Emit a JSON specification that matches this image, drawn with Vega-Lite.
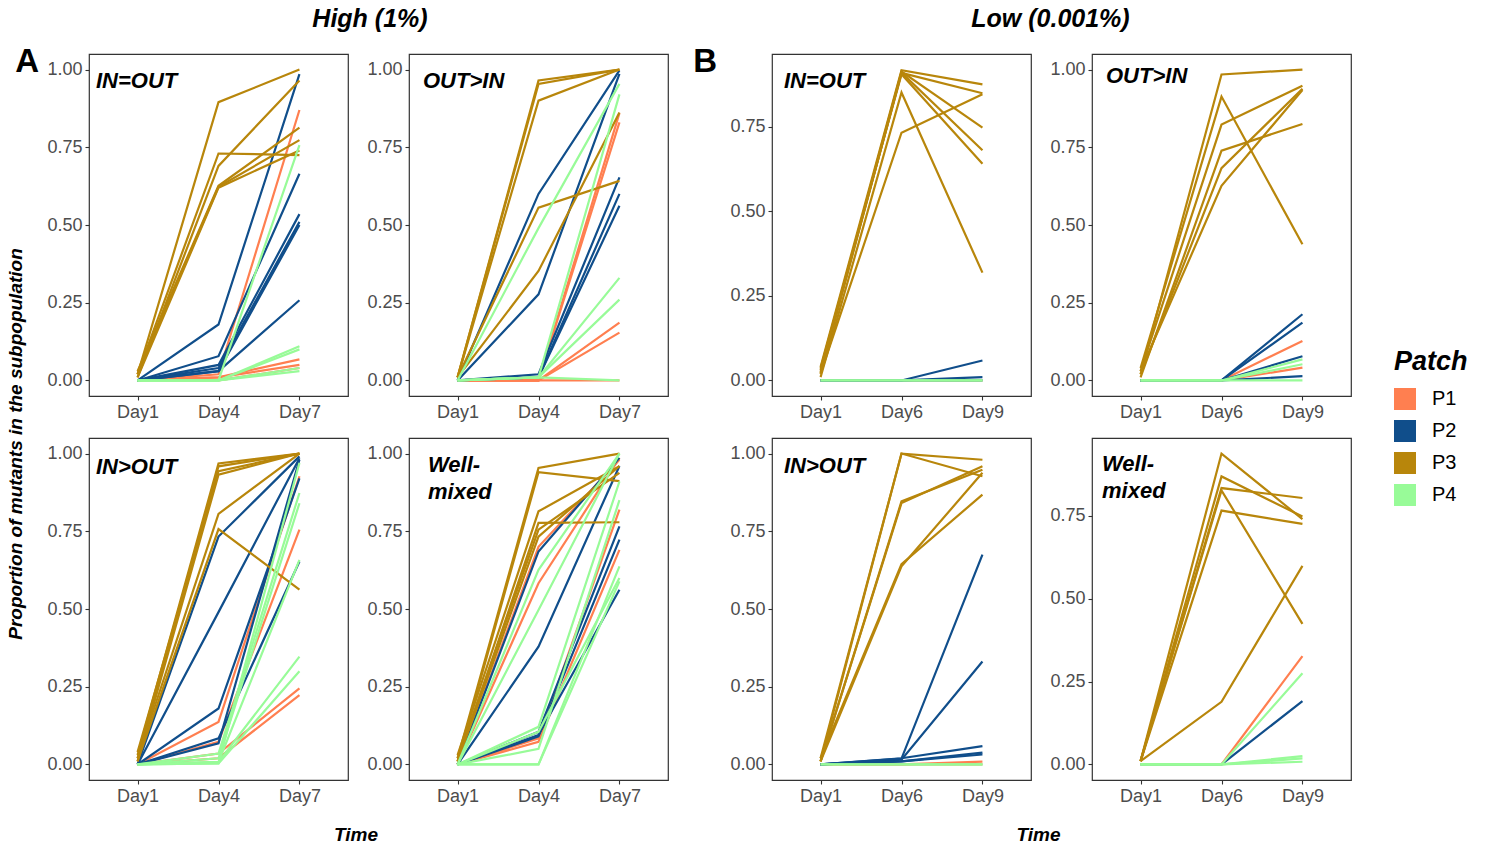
{
"$schema": "https://vega.github.io/schema/vega-lite/v6.json",
"background": "white",
"padding": {"left": 7, "top": 7, "right": 0, "bottom": 0},
"data": {"values": [
{"panel":"A1","patch":"P1","rep":1,"day":"Day1","value":0},{"panel":"A1","patch":"P1","rep":1,"day":"Day4","value":0.02},{"panel":"A1","patch":"P1","rep":1,"day":"Day7","value":0.87},
{"panel":"A1","patch":"P1","rep":2,"day":"Day1","value":0},{"panel":"A1","patch":"P1","rep":2,"day":"Day4","value":0.01},{"panel":"A1","patch":"P1","rep":2,"day":"Day7","value":0.068},
{"panel":"A1","patch":"P1","rep":3,"day":"Day1","value":0},{"panel":"A1","patch":"P1","rep":3,"day":"Day4","value":0.01},{"panel":"A1","patch":"P1","rep":3,"day":"Day7","value":0.05},
{"panel":"A1","patch":"P1","rep":4,"day":"Day1","value":0},{"panel":"A1","patch":"P1","rep":4,"day":"Day4","value":0},{"panel":"A1","patch":"P1","rep":4,"day":"Day7","value":0.04},
{"panel":"A1","patch":"P2","rep":1,"day":"Day1","value":0},{"panel":"A1","patch":"P2","rep":1,"day":"Day4","value":0.18},{"panel":"A1","patch":"P2","rep":1,"day":"Day7","value":0.985},
{"panel":"A1","patch":"P2","rep":2,"day":"Day1","value":0},{"panel":"A1","patch":"P2","rep":2,"day":"Day4","value":0.078},{"panel":"A1","patch":"P2","rep":2,"day":"Day7","value":0.665},
{"panel":"A1","patch":"P2","rep":3,"day":"Day1","value":0},{"panel":"A1","patch":"P2","rep":3,"day":"Day4","value":0.05},{"panel":"A1","patch":"P2","rep":3,"day":"Day7","value":0.535},
{"panel":"A1","patch":"P2","rep":4,"day":"Day1","value":0},{"panel":"A1","patch":"P2","rep":4,"day":"Day4","value":0.04},{"panel":"A1","patch":"P2","rep":4,"day":"Day7","value":0.51},
{"panel":"A1","patch":"P2","rep":5,"day":"Day1","value":0},{"panel":"A1","patch":"P2","rep":5,"day":"Day4","value":0.03},{"panel":"A1","patch":"P2","rep":5,"day":"Day7","value":0.5},
{"panel":"A1","patch":"P2","rep":6,"day":"Day1","value":0},{"panel":"A1","patch":"P2","rep":6,"day":"Day4","value":0.03},{"panel":"A1","patch":"P2","rep":6,"day":"Day7","value":0.258},
{"panel":"A1","patch":"P3","rep":1,"day":"Day1","value":0.02},{"panel":"A1","patch":"P3","rep":1,"day":"Day4","value":0.895},{"panel":"A1","patch":"P3","rep":1,"day":"Day7","value":1},
{"panel":"A1","patch":"P3","rep":2,"day":"Day1","value":0.02},{"panel":"A1","patch":"P3","rep":2,"day":"Day4","value":0.73},{"panel":"A1","patch":"P3","rep":2,"day":"Day7","value":0.725},
{"panel":"A1","patch":"P3","rep":3,"day":"Day1","value":0.01},{"panel":"A1","patch":"P3","rep":3,"day":"Day4","value":0.69},{"panel":"A1","patch":"P3","rep":3,"day":"Day7","value":0.965},
{"panel":"A1","patch":"P3","rep":4,"day":"Day1","value":0.03},{"panel":"A1","patch":"P3","rep":4,"day":"Day4","value":0.626},{"panel":"A1","patch":"P3","rep":4,"day":"Day7","value":0.813},
{"panel":"A1","patch":"P3","rep":5,"day":"Day1","value":0.02},{"panel":"A1","patch":"P3","rep":5,"day":"Day4","value":0.623},{"panel":"A1","patch":"P3","rep":5,"day":"Day7","value":0.773},
{"panel":"A1","patch":"P3","rep":6,"day":"Day1","value":0.01},{"panel":"A1","patch":"P3","rep":6,"day":"Day4","value":0.62},{"panel":"A1","patch":"P3","rep":6,"day":"Day7","value":0.74},
{"panel":"A1","patch":"P4","rep":1,"day":"Day1","value":0},{"panel":"A1","patch":"P4","rep":1,"day":"Day4","value":0},{"panel":"A1","patch":"P4","rep":1,"day":"Day7","value":0.757},
{"panel":"A1","patch":"P4","rep":2,"day":"Day1","value":0},{"panel":"A1","patch":"P4","rep":2,"day":"Day4","value":0},{"panel":"A1","patch":"P4","rep":2,"day":"Day7","value":0.11},
{"panel":"A1","patch":"P4","rep":3,"day":"Day1","value":0},{"panel":"A1","patch":"P4","rep":3,"day":"Day4","value":0},{"panel":"A1","patch":"P4","rep":3,"day":"Day7","value":0.1},
{"panel":"A1","patch":"P4","rep":4,"day":"Day1","value":0},{"panel":"A1","patch":"P4","rep":4,"day":"Day4","value":0},{"panel":"A1","patch":"P4","rep":4,"day":"Day7","value":0.04},
{"panel":"A1","patch":"P4","rep":5,"day":"Day1","value":0},{"panel":"A1","patch":"P4","rep":5,"day":"Day4","value":0},{"panel":"A1","patch":"P4","rep":5,"day":"Day7","value":0.03},

{"panel":"A2","patch":"P1","rep":1,"day":"Day1","value":0},{"panel":"A2","patch":"P1","rep":1,"day":"Day4","value":0},{"panel":"A2","patch":"P1","rep":1,"day":"Day7","value":0.86},
{"panel":"A2","patch":"P1","rep":2,"day":"Day1","value":0},{"panel":"A2","patch":"P1","rep":2,"day":"Day4","value":0},{"panel":"A2","patch":"P1","rep":2,"day":"Day7","value":0.83},
{"panel":"A2","patch":"P1","rep":3,"day":"Day1","value":0},{"panel":"A2","patch":"P1","rep":3,"day":"Day4","value":0},{"panel":"A2","patch":"P1","rep":3,"day":"Day7","value":0.186},
{"panel":"A2","patch":"P1","rep":4,"day":"Day1","value":0},{"panel":"A2","patch":"P1","rep":4,"day":"Day4","value":0},{"panel":"A2","patch":"P1","rep":4,"day":"Day7","value":0.154},
{"panel":"A2","patch":"P1","rep":5,"day":"Day1","value":0},{"panel":"A2","patch":"P1","rep":5,"day":"Day4","value":0},{"panel":"A2","patch":"P1","rep":5,"day":"Day7","value":0},
{"panel":"A2","patch":"P2","rep":1,"day":"Day1","value":0},{"panel":"A2","patch":"P2","rep":1,"day":"Day4","value":0.6},{"panel":"A2","patch":"P2","rep":1,"day":"Day7","value":0.997},
{"panel":"A2","patch":"P2","rep":2,"day":"Day1","value":0},{"panel":"A2","patch":"P2","rep":2,"day":"Day4","value":0.277},{"panel":"A2","patch":"P2","rep":2,"day":"Day7","value":0.986},
{"panel":"A2","patch":"P2","rep":3,"day":"Day1","value":0},{"panel":"A2","patch":"P2","rep":3,"day":"Day4","value":0.02},{"panel":"A2","patch":"P2","rep":3,"day":"Day7","value":0.653},
{"panel":"A2","patch":"P2","rep":4,"day":"Day1","value":0},{"panel":"A2","patch":"P2","rep":4,"day":"Day4","value":0.01},{"panel":"A2","patch":"P2","rep":4,"day":"Day7","value":0.6},
{"panel":"A2","patch":"P2","rep":5,"day":"Day1","value":0},{"panel":"A2","patch":"P2","rep":5,"day":"Day4","value":0.01},{"panel":"A2","patch":"P2","rep":5,"day":"Day7","value":0.562},
{"panel":"A2","patch":"P3","rep":1,"day":"Day1","value":0.01},{"panel":"A2","patch":"P3","rep":1,"day":"Day4","value":0.965},{"panel":"A2","patch":"P3","rep":1,"day":"Day7","value":1},
{"panel":"A2","patch":"P3","rep":2,"day":"Day1","value":0.01},{"panel":"A2","patch":"P3","rep":2,"day":"Day4","value":0.954},{"panel":"A2","patch":"P3","rep":2,"day":"Day7","value":1},
{"panel":"A2","patch":"P3","rep":3,"day":"Day1","value":0.01},{"panel":"A2","patch":"P3","rep":3,"day":"Day4","value":0.9},{"panel":"A2","patch":"P3","rep":3,"day":"Day7","value":1},
{"panel":"A2","patch":"P3","rep":4,"day":"Day1","value":0.01},{"panel":"A2","patch":"P3","rep":4,"day":"Day4","value":0.556},{"panel":"A2","patch":"P3","rep":4,"day":"Day7","value":0.642},
{"panel":"A2","patch":"P3","rep":5,"day":"Day1","value":0.01},{"panel":"A2","patch":"P3","rep":5,"day":"Day4","value":0.352},{"panel":"A2","patch":"P3","rep":5,"day":"Day7","value":0.862},
{"panel":"A2","patch":"P4","rep":1,"day":"Day1","value":0},{"panel":"A2","patch":"P4","rep":1,"day":"Day4","value":0.49},{"panel":"A2","patch":"P4","rep":1,"day":"Day7","value":0.954},
{"panel":"A2","patch":"P4","rep":2,"day":"Day1","value":0},{"panel":"A2","patch":"P4","rep":2,"day":"Day4","value":0.01},{"panel":"A2","patch":"P4","rep":2,"day":"Day7","value":0.92},
{"panel":"A2","patch":"P4","rep":3,"day":"Day1","value":0},{"panel":"A2","patch":"P4","rep":3,"day":"Day4","value":0.01},{"panel":"A2","patch":"P4","rep":3,"day":"Day7","value":0.33},
{"panel":"A2","patch":"P4","rep":4,"day":"Day1","value":0},{"panel":"A2","patch":"P4","rep":4,"day":"Day4","value":0.01},{"panel":"A2","patch":"P4","rep":4,"day":"Day7","value":0.26},
{"panel":"A2","patch":"P4","rep":5,"day":"Day1","value":0},{"panel":"A2","patch":"P4","rep":5,"day":"Day4","value":0.01},{"panel":"A2","patch":"P4","rep":5,"day":"Day7","value":0},

{"panel":"A3","patch":"P1","rep":1,"day":"Day1","value":0},{"panel":"A3","patch":"P1","rep":1,"day":"Day4","value":0.137},{"panel":"A3","patch":"P1","rep":1,"day":"Day7","value":0.927},
{"panel":"A3","patch":"P1","rep":2,"day":"Day1","value":0},{"panel":"A3","patch":"P1","rep":2,"day":"Day4","value":0.073},{"panel":"A3","patch":"P1","rep":2,"day":"Day7","value":0.755},
{"panel":"A3","patch":"P1","rep":3,"day":"Day1","value":0},{"panel":"A3","patch":"P1","rep":3,"day":"Day4","value":0.035},{"panel":"A3","patch":"P1","rep":3,"day":"Day7","value":0.245},
{"panel":"A3","patch":"P1","rep":4,"day":"Day1","value":0},{"panel":"A3","patch":"P1","rep":4,"day":"Day4","value":0.02},{"panel":"A3","patch":"P1","rep":4,"day":"Day7","value":0.223},
{"panel":"A3","patch":"P2","rep":1,"day":"Day1","value":0},{"panel":"A3","patch":"P2","rep":1,"day":"Day4","value":0.733},{"panel":"A3","patch":"P2","rep":1,"day":"Day7","value":0.991},
{"panel":"A3","patch":"P2","rep":2,"day":"Day1","value":0},{"panel":"A3","patch":"P2","rep":2,"day":"Day4","value":0.49},{"panel":"A3","patch":"P2","rep":2,"day":"Day7","value":0.985},
{"panel":"A3","patch":"P2","rep":3,"day":"Day1","value":0},{"panel":"A3","patch":"P2","rep":3,"day":"Day4","value":0.18},{"panel":"A3","patch":"P2","rep":3,"day":"Day7","value":0.92},
{"panel":"A3","patch":"P2","rep":4,"day":"Day1","value":0},{"panel":"A3","patch":"P2","rep":4,"day":"Day4","value":0.084},{"panel":"A3","patch":"P2","rep":4,"day":"Day7","value":0.653},
{"panel":"A3","patch":"P2","rep":5,"day":"Day1","value":0},{"panel":"A3","patch":"P2","rep":5,"day":"Day4","value":0.068},{"panel":"A3","patch":"P2","rep":5,"day":"Day7","value":0.98},
{"panel":"A3","patch":"P3","rep":1,"day":"Day1","value":0.03},{"panel":"A3","patch":"P3","rep":1,"day":"Day4","value":0.968},{"panel":"A3","patch":"P3","rep":1,"day":"Day7","value":1},
{"panel":"A3","patch":"P3","rep":2,"day":"Day1","value":0.02},{"panel":"A3","patch":"P3","rep":2,"day":"Day4","value":0.959},{"panel":"A3","patch":"P3","rep":2,"day":"Day7","value":1},
{"panel":"A3","patch":"P3","rep":3,"day":"Day1","value":0.04},{"panel":"A3","patch":"P3","rep":3,"day":"Day4","value":0.943},{"panel":"A3","patch":"P3","rep":3,"day":"Day7","value":1},
{"panel":"A3","patch":"P3","rep":4,"day":"Day1","value":0.01},{"panel":"A3","patch":"P3","rep":4,"day":"Day4","value":0.932},{"panel":"A3","patch":"P3","rep":4,"day":"Day7","value":1},
{"panel":"A3","patch":"P3","rep":5,"day":"Day1","value":0.02},{"panel":"A3","patch":"P3","rep":5,"day":"Day4","value":0.806},{"panel":"A3","patch":"P3","rep":5,"day":"Day7","value":1},
{"panel":"A3","patch":"P3","rep":6,"day":"Day1","value":0.01},{"panel":"A3","patch":"P3","rep":6,"day":"Day4","value":0.757},{"panel":"A3","patch":"P3","rep":6,"day":"Day7","value":0.562},
{"panel":"A3","patch":"P4","rep":1,"day":"Day1","value":0},{"panel":"A3","patch":"P4","rep":1,"day":"Day4","value":0.035},{"panel":"A3","patch":"P4","rep":1,"day":"Day7","value":0.873},
{"panel":"A3","patch":"P4","rep":2,"day":"Day1","value":0},{"panel":"A3","patch":"P4","rep":2,"day":"Day4","value":0.02},{"panel":"A3","patch":"P4","rep":2,"day":"Day7","value":0.84},
{"panel":"A3","patch":"P4","rep":3,"day":"Day1","value":0},{"panel":"A3","patch":"P4","rep":3,"day":"Day4","value":0.008},{"panel":"A3","patch":"P4","rep":3,"day":"Day7","value":0.658},
{"panel":"A3","patch":"P4","rep":4,"day":"Day1","value":0},{"panel":"A3","patch":"P4","rep":4,"day":"Day4","value":0.008},{"panel":"A3","patch":"P4","rep":4,"day":"Day7","value":0.347},
{"panel":"A3","patch":"P4","rep":5,"day":"Day1","value":0},{"panel":"A3","patch":"P4","rep":5,"day":"Day4","value":0.003},{"panel":"A3","patch":"P4","rep":5,"day":"Day7","value":0.3},
{"panel":"A3","patch":"P4","rep":6,"day":"Day1","value":0},{"panel":"A3","patch":"P4","rep":6,"day":"Day4","value":0.003},{"panel":"A3","patch":"P4","rep":6,"day":"Day7","value":0.97},

{"panel":"A4","patch":"P1","rep":1,"day":"Day1","value":0},{"panel":"A4","patch":"P1","rep":1,"day":"Day4","value":0.7},{"panel":"A4","patch":"P1","rep":1,"day":"Day7","value":0.98},
{"panel":"A4","patch":"P1","rep":2,"day":"Day1","value":0},{"panel":"A4","patch":"P1","rep":2,"day":"Day4","value":0.583},{"panel":"A4","patch":"P1","rep":2,"day":"Day7","value":0.985},
{"panel":"A4","patch":"P1","rep":3,"day":"Day1","value":0},{"panel":"A4","patch":"P1","rep":3,"day":"Day4","value":0.084},{"panel":"A4","patch":"P1","rep":3,"day":"Day7","value":0.82},
{"panel":"A4","patch":"P1","rep":4,"day":"Day1","value":0},{"panel":"A4","patch":"P1","rep":4,"day":"Day4","value":0.073},{"panel":"A4","patch":"P1","rep":4,"day":"Day7","value":0.69},
{"panel":"A4","patch":"P2","rep":1,"day":"Day1","value":0},{"panel":"A4","patch":"P2","rep":1,"day":"Day4","value":0.685},{"panel":"A4","patch":"P2","rep":1,"day":"Day7","value":0.986},
{"panel":"A4","patch":"P2","rep":2,"day":"Day1","value":0},{"panel":"A4","patch":"P2","rep":2,"day":"Day4","value":0.379},{"panel":"A4","patch":"P2","rep":2,"day":"Day7","value":0.96},
{"panel":"A4","patch":"P2","rep":3,"day":"Day1","value":0},{"panel":"A4","patch":"P2","rep":3,"day":"Day4","value":0.105},{"panel":"A4","patch":"P2","rep":3,"day":"Day7","value":0.766},
{"panel":"A4","patch":"P2","rep":4,"day":"Day1","value":0},{"panel":"A4","patch":"P2","rep":4,"day":"Day4","value":0.095},{"panel":"A4","patch":"P2","rep":4,"day":"Day7","value":0.562},
{"panel":"A4","patch":"P2","rep":5,"day":"Day1","value":0},{"panel":"A4","patch":"P2","rep":5,"day":"Day4","value":0.09},{"panel":"A4","patch":"P2","rep":5,"day":"Day7","value":0.723},
{"panel":"A4","patch":"P3","rep":1,"day":"Day1","value":0.02},{"panel":"A4","patch":"P3","rep":1,"day":"Day4","value":0.954},{"panel":"A4","patch":"P3","rep":1,"day":"Day7","value":1},
{"panel":"A4","patch":"P3","rep":2,"day":"Day1","value":0.01},{"panel":"A4","patch":"P3","rep":2,"day":"Day4","value":0.94},{"panel":"A4","patch":"P3","rep":2,"day":"Day7","value":0.911},
{"panel":"A4","patch":"P3","rep":3,"day":"Day1","value":0.03},{"panel":"A4","patch":"P3","rep":3,"day":"Day4","value":0.814},{"panel":"A4","patch":"P3","rep":3,"day":"Day7","value":0.959},
{"panel":"A4","patch":"P3","rep":4,"day":"Day1","value":0.01},{"panel":"A4","patch":"P3","rep":4,"day":"Day4","value":0.777},{"panel":"A4","patch":"P3","rep":4,"day":"Day7","value":0.779},
{"panel":"A4","patch":"P3","rep":5,"day":"Day1","value":0.02},{"panel":"A4","patch":"P3","rep":5,"day":"Day4","value":0.755},{"panel":"A4","patch":"P3","rep":5,"day":"Day7","value":0.938},
{"panel":"A4","patch":"P3","rep":6,"day":"Day1","value":0.01},{"panel":"A4","patch":"P3","rep":6,"day":"Day4","value":0.733},{"panel":"A4","patch":"P3","rep":6,"day":"Day7","value":0.96},
{"panel":"A4","patch":"P4","rep":1,"day":"Day1","value":0},{"panel":"A4","patch":"P4","rep":1,"day":"Day4","value":0.626},{"panel":"A4","patch":"P4","rep":1,"day":"Day7","value":1},
{"panel":"A4","patch":"P4","rep":2,"day":"Day1","value":0},{"panel":"A4","patch":"P4","rep":2,"day":"Day4","value":0.497},{"panel":"A4","patch":"P4","rep":2,"day":"Day7","value":1},
{"panel":"A4","patch":"P4","rep":3,"day":"Day1","value":0},{"panel":"A4","patch":"P4","rep":3,"day":"Day4","value":0.121},{"panel":"A4","patch":"P4","rep":3,"day":"Day7","value":0.91},
{"panel":"A4","patch":"P4","rep":4,"day":"Day1","value":0},{"panel":"A4","patch":"P4","rep":4,"day":"Day4","value":0.05},{"panel":"A4","patch":"P4","rep":4,"day":"Day7","value":0.85},
{"panel":"A4","patch":"P4","rep":5,"day":"Day1","value":0},{"panel":"A4","patch":"P4","rep":5,"day":"Day4","value":0},{"panel":"A4","patch":"P4","rep":5,"day":"Day7","value":0.637},
{"panel":"A4","patch":"P4","rep":6,"day":"Day1","value":0},{"panel":"A4","patch":"P4","rep":6,"day":"Day4","value":0},{"panel":"A4","patch":"P4","rep":6,"day":"Day7","value":0.589},
{"panel":"A4","patch":"P4","rep":7,"day":"Day1","value":0},{"panel":"A4","patch":"P4","rep":7,"day":"Day4","value":0.105},{"panel":"A4","patch":"P4","rep":7,"day":"Day7","value":0.6},

{"panel":"B1","patch":"P1","rep":1,"day":"Day1","value":0},{"panel":"B1","patch":"P1","rep":1,"day":"Day6","value":0},{"panel":"B1","patch":"P1","rep":1,"day":"Day9","value":0},
{"panel":"B1","patch":"P2","rep":1,"day":"Day1","value":0},{"panel":"B1","patch":"P2","rep":1,"day":"Day6","value":0},{"panel":"B1","patch":"P2","rep":1,"day":"Day9","value":0.059},
{"panel":"B1","patch":"P2","rep":2,"day":"Day1","value":0},{"panel":"B1","patch":"P2","rep":2,"day":"Day6","value":0},{"panel":"B1","patch":"P2","rep":2,"day":"Day9","value":0.01},
{"panel":"B1","patch":"P2","rep":3,"day":"Day1","value":0},{"panel":"B1","patch":"P2","rep":3,"day":"Day6","value":0},{"panel":"B1","patch":"P2","rep":3,"day":"Day9","value":0},
{"panel":"B1","patch":"P3","rep":1,"day":"Day1","value":0.04},{"panel":"B1","patch":"P3","rep":1,"day":"Day6","value":0.918},{"panel":"B1","patch":"P3","rep":1,"day":"Day9","value":0.876},
{"panel":"B1","patch":"P3","rep":2,"day":"Day1","value":0.03},{"panel":"B1","patch":"P3","rep":2,"day":"Day6","value":0.914},{"panel":"B1","patch":"P3","rep":2,"day":"Day9","value":0.748},
{"panel":"B1","patch":"P3","rep":3,"day":"Day1","value":0.02},{"panel":"B1","patch":"P3","rep":3,"day":"Day6","value":0.911},{"panel":"B1","patch":"P3","rep":3,"day":"Day9","value":0.681},
{"panel":"B1","patch":"P3","rep":4,"day":"Day1","value":0.035},{"panel":"B1","patch":"P3","rep":4,"day":"Day6","value":0.906},{"panel":"B1","patch":"P3","rep":4,"day":"Day9","value":0.641},
{"panel":"B1","patch":"P3","rep":5,"day":"Day1","value":0.025},{"panel":"B1","patch":"P3","rep":5,"day":"Day6","value":0.91},{"panel":"B1","patch":"P3","rep":5,"day":"Day9","value":0.85},
{"panel":"B1","patch":"P3","rep":6,"day":"Day1","value":0.01},{"panel":"B1","patch":"P3","rep":6,"day":"Day6","value":0.852},{"panel":"B1","patch":"P3","rep":6,"day":"Day9","value":0.319},
{"panel":"B1","patch":"P3","rep":7,"day":"Day1","value":0.02},{"panel":"B1","patch":"P3","rep":7,"day":"Day6","value":0.733},{"panel":"B1","patch":"P3","rep":7,"day":"Day9","value":0.847},
{"panel":"B1","patch":"P4","rep":1,"day":"Day1","value":0},{"panel":"B1","patch":"P4","rep":1,"day":"Day6","value":0},{"panel":"B1","patch":"P4","rep":1,"day":"Day9","value":0},
{"panel":"B1","patch":"P4","rep":2,"day":"Day1","value":0},{"panel":"B1","patch":"P4","rep":2,"day":"Day6","value":0},{"panel":"B1","patch":"P4","rep":2,"day":"Day9","value":0},

{"panel":"B2","patch":"P1","rep":1,"day":"Day1","value":0},{"panel":"B2","patch":"P1","rep":1,"day":"Day6","value":0},{"panel":"B2","patch":"P1","rep":1,"day":"Day9","value":0.127},
{"panel":"B2","patch":"P1","rep":2,"day":"Day1","value":0},{"panel":"B2","patch":"P1","rep":2,"day":"Day6","value":0},{"panel":"B2","patch":"P1","rep":2,"day":"Day9","value":0.041},
{"panel":"B2","patch":"P2","rep":1,"day":"Day1","value":0},{"panel":"B2","patch":"P2","rep":1,"day":"Day6","value":0},{"panel":"B2","patch":"P2","rep":1,"day":"Day9","value":0.213},
{"panel":"B2","patch":"P2","rep":2,"day":"Day1","value":0},{"panel":"B2","patch":"P2","rep":2,"day":"Day6","value":0},{"panel":"B2","patch":"P2","rep":2,"day":"Day9","value":0.186},
{"panel":"B2","patch":"P2","rep":3,"day":"Day1","value":0},{"panel":"B2","patch":"P2","rep":3,"day":"Day6","value":0},{"panel":"B2","patch":"P2","rep":3,"day":"Day9","value":0.078},
{"panel":"B2","patch":"P2","rep":4,"day":"Day1","value":0},{"panel":"B2","patch":"P2","rep":4,"day":"Day6","value":0},{"panel":"B2","patch":"P2","rep":4,"day":"Day9","value":0.014},
{"panel":"B2","patch":"P3","rep":1,"day":"Day1","value":0.02},{"panel":"B2","patch":"P3","rep":1,"day":"Day6","value":0.984},{"panel":"B2","patch":"P3","rep":1,"day":"Day9","value":1},
{"panel":"B2","patch":"P3","rep":2,"day":"Day1","value":0.04},{"panel":"B2","patch":"P3","rep":2,"day":"Day6","value":0.913},{"panel":"B2","patch":"P3","rep":2,"day":"Day9","value":0.438},
{"panel":"B2","patch":"P3","rep":3,"day":"Day1","value":0.03},{"panel":"B2","patch":"P3","rep":3,"day":"Day6","value":0.823},{"panel":"B2","patch":"P3","rep":3,"day":"Day9","value":0.948},
{"panel":"B2","patch":"P3","rep":4,"day":"Day1","value":0.01},{"panel":"B2","patch":"P3","rep":4,"day":"Day6","value":0.739},{"panel":"B2","patch":"P3","rep":4,"day":"Day9","value":0.825},
{"panel":"B2","patch":"P3","rep":5,"day":"Day1","value":0.02},{"panel":"B2","patch":"P3","rep":5,"day":"Day6","value":0.683},{"panel":"B2","patch":"P3","rep":5,"day":"Day9","value":0.938},
{"panel":"B2","patch":"P3","rep":6,"day":"Day1","value":0.03},{"panel":"B2","patch":"P3","rep":6,"day":"Day6","value":0.626},{"panel":"B2","patch":"P3","rep":6,"day":"Day9","value":0.934},
{"panel":"B2","patch":"P4","rep":1,"day":"Day1","value":0},{"panel":"B2","patch":"P4","rep":1,"day":"Day6","value":0},{"panel":"B2","patch":"P4","rep":1,"day":"Day9","value":0.068},
{"panel":"B2","patch":"P4","rep":2,"day":"Day1","value":0},{"panel":"B2","patch":"P4","rep":2,"day":"Day6","value":0},{"panel":"B2","patch":"P4","rep":2,"day":"Day9","value":0.052},
{"panel":"B2","patch":"P4","rep":3,"day":"Day1","value":0},{"panel":"B2","patch":"P4","rep":3,"day":"Day6","value":0},{"panel":"B2","patch":"P4","rep":3,"day":"Day9","value":0},

{"panel":"B3","patch":"P1","rep":1,"day":"Day1","value":0},{"panel":"B3","patch":"P1","rep":1,"day":"Day6","value":0},{"panel":"B3","patch":"P1","rep":1,"day":"Day9","value":0.009},
{"panel":"B3","patch":"P1","rep":2,"day":"Day1","value":0},{"panel":"B3","patch":"P1","rep":2,"day":"Day6","value":0},{"panel":"B3","patch":"P1","rep":2,"day":"Day9","value":0},
{"panel":"B3","patch":"P2","rep":1,"day":"Day1","value":0},{"panel":"B3","patch":"P2","rep":1,"day":"Day6","value":0.019},{"panel":"B3","patch":"P2","rep":1,"day":"Day9","value":0.675},
{"panel":"B3","patch":"P2","rep":2,"day":"Day1","value":0},{"panel":"B3","patch":"P2","rep":2,"day":"Day6","value":0.015},{"panel":"B3","patch":"P2","rep":2,"day":"Day9","value":0.331},
{"panel":"B3","patch":"P2","rep":3,"day":"Day1","value":0},{"panel":"B3","patch":"P2","rep":3,"day":"Day6","value":0.02},{"panel":"B3","patch":"P2","rep":3,"day":"Day9","value":0.059},
{"panel":"B3","patch":"P2","rep":4,"day":"Day1","value":0},{"panel":"B3","patch":"P2","rep":4,"day":"Day6","value":0.01},{"panel":"B3","patch":"P2","rep":4,"day":"Day9","value":0.038},
{"panel":"B3","patch":"P2","rep":5,"day":"Day1","value":0},{"panel":"B3","patch":"P2","rep":5,"day":"Day6","value":0.01},{"panel":"B3","patch":"P2","rep":5,"day":"Day9","value":0.032},
{"panel":"B3","patch":"P3","rep":1,"day":"Day1","value":0.01},{"panel":"B3","patch":"P3","rep":1,"day":"Day6","value":1},{"panel":"B3","patch":"P3","rep":1,"day":"Day9","value":0.98},
{"panel":"B3","patch":"P3","rep":2,"day":"Day1","value":0.02},{"panel":"B3","patch":"P3","rep":2,"day":"Day6","value":1},{"panel":"B3","patch":"P3","rep":2,"day":"Day9","value":0.927},
{"panel":"B3","patch":"P3","rep":3,"day":"Day1","value":0.01},{"panel":"B3","patch":"P3","rep":3,"day":"Day6","value":0.846},{"panel":"B3","patch":"P3","rep":3,"day":"Day9","value":0.948},
{"panel":"B3","patch":"P3","rep":4,"day":"Day1","value":0.01},{"panel":"B3","patch":"P3","rep":4,"day":"Day6","value":0.841},{"panel":"B3","patch":"P3","rep":4,"day":"Day9","value":0.959},
{"panel":"B3","patch":"P3","rep":5,"day":"Day1","value":0.02},{"panel":"B3","patch":"P3","rep":5,"day":"Day6","value":0.644},{"panel":"B3","patch":"P3","rep":5,"day":"Day9","value":0.868},
{"panel":"B3","patch":"P3","rep":6,"day":"Day1","value":0.01},{"panel":"B3","patch":"P3","rep":6,"day":"Day6","value":0.637},{"panel":"B3","patch":"P3","rep":6,"day":"Day9","value":0.938},
{"panel":"B3","patch":"P4","rep":1,"day":"Day1","value":0},{"panel":"B3","patch":"P4","rep":1,"day":"Day6","value":0},{"panel":"B3","patch":"P4","rep":1,"day":"Day9","value":0},
{"panel":"B3","patch":"P4","rep":2,"day":"Day1","value":0},{"panel":"B3","patch":"P4","rep":2,"day":"Day6","value":0},{"panel":"B3","patch":"P4","rep":2,"day":"Day9","value":0},

{"panel":"B4","patch":"P1","rep":1,"day":"Day1","value":0},{"panel":"B4","patch":"P1","rep":1,"day":"Day6","value":0},{"panel":"B4","patch":"P1","rep":1,"day":"Day9","value":0.327},
{"panel":"B4","patch":"P2","rep":1,"day":"Day1","value":0},{"panel":"B4","patch":"P2","rep":1,"day":"Day6","value":0},{"panel":"B4","patch":"P2","rep":1,"day":"Day9","value":0.191},
{"panel":"B4","patch":"P3","rep":1,"day":"Day1","value":0.01},{"panel":"B4","patch":"P3","rep":1,"day":"Day6","value":0.938},{"panel":"B4","patch":"P3","rep":1,"day":"Day9","value":0.74},
{"panel":"B4","patch":"P3","rep":2,"day":"Day1","value":0.01},{"panel":"B4","patch":"P3","rep":2,"day":"Day6","value":0.869},{"panel":"B4","patch":"P3","rep":2,"day":"Day9","value":0.748},
{"panel":"B4","patch":"P3","rep":3,"day":"Day1","value":0.01},{"panel":"B4","patch":"P3","rep":3,"day":"Day6","value":0.834},{"panel":"B4","patch":"P3","rep":3,"day":"Day9","value":0.804},
{"panel":"B4","patch":"P3","rep":4,"day":"Day1","value":0.01},{"panel":"B4","patch":"P3","rep":4,"day":"Day6","value":0.827},{"panel":"B4","patch":"P3","rep":4,"day":"Day9","value":0.424},
{"panel":"B4","patch":"P3","rep":5,"day":"Day1","value":0.01},{"panel":"B4","patch":"P3","rep":5,"day":"Day6","value":0.766},{"panel":"B4","patch":"P3","rep":5,"day":"Day9","value":0.726},
{"panel":"B4","patch":"P3","rep":6,"day":"Day1","value":0.01},{"panel":"B4","patch":"P3","rep":6,"day":"Day6","value":0.189},{"panel":"B4","patch":"P3","rep":6,"day":"Day9","value":0.599},
{"panel":"B4","patch":"P4","rep":1,"day":"Day1","value":0},{"panel":"B4","patch":"P4","rep":1,"day":"Day6","value":0},{"panel":"B4","patch":"P4","rep":1,"day":"Day9","value":0.275},
{"panel":"B4","patch":"P4","rep":2,"day":"Day1","value":0},{"panel":"B4","patch":"P4","rep":2,"day":"Day6","value":0},{"panel":"B4","patch":"P4","rep":2,"day":"Day9","value":0.025},
{"panel":"B4","patch":"P4","rep":3,"day":"Day1","value":0},{"panel":"B4","patch":"P4","rep":3,"day":"Day6","value":0},{"panel":"B4","patch":"P4","rep":3,"day":"Day9","value":0.018},
{"panel":"B4","patch":"P4","rep":4,"day":"Day1","value":0},{"panel":"B4","patch":"P4","rep":4,"day":"Day6","value":0},{"panel":"B4","patch":"P4","rep":4,"day":"Day9","value":0.008}
]},
"spacing": 24,
"hconcat": [
 {
  "title": {"text": "Proportion of mutants in the subpopulation", "orient": "left", "anchor": "middle", "fontSize": 19, "fontStyle": "italic", "fontWeight": "bold", "offset": -11, "dx": -18},
  "vconcat": [
   {
    "title": {"text": "Time", "orient": "bottom", "anchor": "middle", "fontSize": 19, "fontStyle": "italic", "fontWeight": "bold", "offset": 20, "dx": 14},
    "vconcat": [
     {
      "title": {"text": "High (1%)", "fontSize": 25, "fontStyle": "italic", "fontWeight": "bold", "anchor": "middle", "dx": 28, "offset": 14},
      "spacing": 15,
      "vconcat": [
       {
        "title": {"text": "A", "anchor": "start", "fontSize": 33, "fontWeight": "bold", "dx": -31, "baseline": "alphabetic", "offset": -52},
        "spacing": 17,
        "hconcat": [
         {"width": 259, "height": 342,
          "title": {"text": "IN=OUT", "anchor": "start", "frame": "group", "offset": -56, "dx": 7, "baseline": "alphabetic", "fontSize": 22, "fontStyle": "italic", "fontWeight": "bold"},
          "transform": [{"filter": "datum.panel === 'A1'"}],
          "mark": {"type": "line", "strokeWidth": 2.2},
          "encoding": {
           "x": {"field": "day", "type": "ordinal", "scale": {"type": "point", "domain": ["Day1","Day4","Day7"], "padding": 0.6}, "axis": {"title": null}},
           "y": {"field": "value", "type": "quantitative", "scale": {"domain": [-0.05, 1.05], "nice": false, "zero": false}, "axis": {"values": [0,0.25,0.5,0.75,1], "format": ".2f", "title": null}},
           "color": {"field": "patch", "type": "nominal", "title": "Patch", "scale": {"domain": ["P1","P2","P3","P4"], "range": ["#FF7F50","#104E8B","#B8860B","#98FB98"]}, "legend": {"orient": "none", "legendX": 1305, "legendY": 295, "symbolType": "square", "symbolSize": 484, "symbolStrokeWidth": 0, "titleFontSize": 27, "titleFontStyle": "italic", "titleFontWeight": "bold", "titleColor": "black", "labelFontSize": 20, "labelColor": "black", "rowPadding": 10, "labelOffset": 16, "titlePadding": 12, "encode": {"symbols": {"update": {"fill": {"scale": "color", "field": "value"}, "opacity": {"value": 1}}}}}},
           "detail": {"field": "rep", "type": "nominal"}
          }},
         {"width": 259, "height": 342,
          "title": {"text": "OUT>IN", "anchor": "start", "frame": "group", "offset": -56, "dx": 14, "baseline": "alphabetic", "fontSize": 22, "fontStyle": "italic", "fontWeight": "bold"},
          "transform": [{"filter": "datum.panel === 'A2'"}],
          "mark": {"type": "line", "strokeWidth": 2.2},
          "encoding": {
           "x": {"field": "day", "type": "ordinal", "scale": {"type": "point", "domain": ["Day1","Day4","Day7"], "padding": 0.6}, "axis": {"title": null}},
           "y": {"field": "value", "type": "quantitative", "scale": {"domain": [-0.05, 1.05], "nice": false, "zero": false}, "axis": {"values": [0,0.25,0.5,0.75,1], "format": ".2f", "title": null}},
           "color": {"field": "patch", "type": "nominal", "title": "Patch", "scale": {"domain": ["P1","P2","P3","P4"], "range": ["#FF7F50","#104E8B","#B8860B","#98FB98"]}, "legend": {"orient": "none", "legendX": 1305, "legendY": 295, "symbolType": "square", "symbolSize": 484, "symbolStrokeWidth": 0, "titleFontSize": 27, "titleFontStyle": "italic", "titleFontWeight": "bold", "titleColor": "black", "labelFontSize": 20, "labelColor": "black", "rowPadding": 10, "labelOffset": 16, "titlePadding": 12, "encode": {"symbols": {"update": {"fill": {"scale": "color", "field": "value"}, "opacity": {"value": 1}}}}}},
           "detail": {"field": "rep", "type": "nominal"}
          }}
        ]
       },
       {
        "spacing": 17,
        "hconcat": [
         {"width": 259, "height": 342,
          "title": {"text": "IN>OUT", "anchor": "start", "frame": "group", "offset": -58, "dx": 7, "baseline": "alphabetic", "fontSize": 22, "fontStyle": "italic", "fontWeight": "bold"},
          "transform": [{"filter": "datum.panel === 'A3'"}],
          "mark": {"type": "line", "strokeWidth": 2.2},
          "encoding": {
           "x": {"field": "day", "type": "ordinal", "scale": {"type": "point", "domain": ["Day1","Day4","Day7"], "padding": 0.6}, "axis": {"title": null}},
           "y": {"field": "value", "type": "quantitative", "scale": {"domain": [-0.05, 1.05], "nice": false, "zero": false}, "axis": {"values": [0,0.25,0.5,0.75,1], "format": ".2f", "title": null}},
           "color": {"field": "patch", "type": "nominal", "title": "Patch", "scale": {"domain": ["P1","P2","P3","P4"], "range": ["#FF7F50","#104E8B","#B8860B","#98FB98"]}, "legend": {"orient": "none", "legendX": 1305, "legendY": 295, "symbolType": "square", "symbolSize": 484, "symbolStrokeWidth": 0, "titleFontSize": 27, "titleFontStyle": "italic", "titleFontWeight": "bold", "titleColor": "black", "labelFontSize": 20, "labelColor": "black", "rowPadding": 10, "labelOffset": 16, "titlePadding": 12, "encode": {"symbols": {"update": {"fill": {"scale": "color", "field": "value"}, "opacity": {"value": 1}}}}}},
           "detail": {"field": "rep", "type": "nominal"}
          }},
         {"width": 259, "height": 342,
          "title": {"text": ["Well-", "mixed"], "anchor": "start", "frame": "group", "offset": -83, "dx": 19, "baseline": "alphabetic", "lineHeight": 27, "fontSize": 22, "fontStyle": "italic", "fontWeight": "bold"},
          "transform": [{"filter": "datum.panel === 'A4'"}],
          "mark": {"type": "line", "strokeWidth": 2.2},
          "encoding": {
           "x": {"field": "day", "type": "ordinal", "scale": {"type": "point", "domain": ["Day1","Day4","Day7"], "padding": 0.6}, "axis": {"title": null}},
           "y": {"field": "value", "type": "quantitative", "scale": {"domain": [-0.05, 1.05], "nice": false, "zero": false}, "axis": {"values": [0,0.25,0.5,0.75,1], "format": ".2f", "title": null}},
           "color": {"field": "patch", "type": "nominal", "title": "Patch", "scale": {"domain": ["P1","P2","P3","P4"], "range": ["#FF7F50","#104E8B","#B8860B","#98FB98"]}, "legend": {"orient": "none", "legendX": 1305, "legendY": 295, "symbolType": "square", "symbolSize": 484, "symbolStrokeWidth": 0, "titleFontSize": 27, "titleFontStyle": "italic", "titleFontWeight": "bold", "titleColor": "black", "labelFontSize": 20, "labelColor": "black", "rowPadding": 10, "labelOffset": 16, "titlePadding": 12, "encode": {"symbols": {"update": {"fill": {"scale": "color", "field": "value"}, "opacity": {"value": 1}}}}}},
           "detail": {"field": "rep", "type": "nominal"}
          }}
        ]
       }
      ]
     }
    ]
   }
  ]
 },
 {
  "title": {"text": "Time", "orient": "bottom", "anchor": "middle", "fontSize": 19, "fontStyle": "italic", "fontWeight": "bold", "offset": 20, "dx": 16},
  "vconcat": [
   {
    "title": {"text": "Low (0.001%)", "fontSize": 25, "fontStyle": "italic", "fontWeight": "bold", "anchor": "middle", "dx": 28, "offset": 14},
    "spacing": 15,
    "vconcat": [
     {
      "title": {"text": "B", "anchor": "start", "fontSize": 33, "fontWeight": "bold", "dx": -36, "baseline": "alphabetic", "offset": -52},
      "spacing": 17,
      "hconcat": [
       {"width": 259, "height": 342,
        "title": {"text": "IN=OUT", "anchor": "start", "frame": "group", "offset": -56, "dx": 12, "baseline": "alphabetic", "fontSize": 22, "fontStyle": "italic", "fontWeight": "bold"},
        "transform": [{"filter": "datum.panel === 'B1'"}],
        "mark": {"type": "line", "strokeWidth": 2.2},
        "encoding": {
         "x": {"field": "day", "type": "ordinal", "scale": {"type": "point", "domain": ["Day1","Day6","Day9"], "padding": 0.6}, "axis": {"title": null}},
         "y": {"field": "value", "type": "quantitative", "scale": {"domain": [-0.046, 0.966], "nice": false, "zero": false}, "axis": {"values": [0,0.25,0.5,0.75], "format": ".2f", "title": null}},
         "color": {"field": "patch", "type": "nominal", "title": "Patch", "scale": {"domain": ["P1","P2","P3","P4"], "range": ["#FF7F50","#104E8B","#B8860B","#98FB98"]}, "legend": {"orient": "none", "legendX": 1305, "legendY": 295, "symbolType": "square", "symbolSize": 484, "symbolStrokeWidth": 0, "titleFontSize": 27, "titleFontStyle": "italic", "titleFontWeight": "bold", "titleColor": "black", "labelFontSize": 20, "labelColor": "black", "rowPadding": 10, "labelOffset": 16, "titlePadding": 12, "encode": {"symbols": {"update": {"fill": {"scale": "color", "field": "value"}, "opacity": {"value": 1}}}}}},
         "detail": {"field": "rep", "type": "nominal"}
        }},
       {"width": 259, "height": 342,
        "title": {"text": "OUT>IN", "anchor": "start", "frame": "group", "offset": -51, "dx": 14, "baseline": "alphabetic", "fontSize": 22, "fontStyle": "italic", "fontWeight": "bold"},
        "transform": [{"filter": "datum.panel === 'B2'"}],
        "mark": {"type": "line", "strokeWidth": 2.2},
        "encoding": {
         "x": {"field": "day", "type": "ordinal", "scale": {"type": "point", "domain": ["Day1","Day6","Day9"], "padding": 0.6}, "axis": {"title": null}},
         "y": {"field": "value", "type": "quantitative", "scale": {"domain": [-0.05, 1.05], "nice": false, "zero": false}, "axis": {"values": [0,0.25,0.5,0.75,1], "format": ".2f", "title": null}},
         "color": {"field": "patch", "type": "nominal", "title": "Patch", "scale": {"domain": ["P1","P2","P3","P4"], "range": ["#FF7F50","#104E8B","#B8860B","#98FB98"]}, "legend": {"orient": "none", "legendX": 1305, "legendY": 295, "symbolType": "square", "symbolSize": 484, "symbolStrokeWidth": 0, "titleFontSize": 27, "titleFontStyle": "italic", "titleFontWeight": "bold", "titleColor": "black", "labelFontSize": 20, "labelColor": "black", "rowPadding": 10, "labelOffset": 16, "titlePadding": 12, "encode": {"symbols": {"update": {"fill": {"scale": "color", "field": "value"}, "opacity": {"value": 1}}}}}},
         "detail": {"field": "rep", "type": "nominal"}
        }}
      ]
     },
     {
      "spacing": 17,
      "hconcat": [
       {"width": 259, "height": 342,
        "title": {"text": "IN>OUT", "anchor": "start", "frame": "group", "offset": -57, "dx": 12, "baseline": "alphabetic", "fontSize": 22, "fontStyle": "italic", "fontWeight": "bold"},
        "transform": [{"filter": "datum.panel === 'B3'"}],
        "mark": {"type": "line", "strokeWidth": 2.2},
        "encoding": {
         "x": {"field": "day", "type": "ordinal", "scale": {"type": "point", "domain": ["Day1","Day6","Day9"], "padding": 0.6}, "axis": {"title": null}},
         "y": {"field": "value", "type": "quantitative", "scale": {"domain": [-0.05, 1.05], "nice": false, "zero": false}, "axis": {"values": [0,0.25,0.5,0.75,1], "format": ".2f", "title": null}},
         "color": {"field": "patch", "type": "nominal", "title": "Patch", "scale": {"domain": ["P1","P2","P3","P4"], "range": ["#FF7F50","#104E8B","#B8860B","#98FB98"]}, "legend": {"orient": "none", "legendX": 1305, "legendY": 295, "symbolType": "square", "symbolSize": 484, "symbolStrokeWidth": 0, "titleFontSize": 27, "titleFontStyle": "italic", "titleFontWeight": "bold", "titleColor": "black", "labelFontSize": 20, "labelColor": "black", "rowPadding": 10, "labelOffset": 16, "titlePadding": 12, "encode": {"symbols": {"update": {"fill": {"scale": "color", "field": "value"}, "opacity": {"value": 1}}}}}},
         "detail": {"field": "rep", "type": "nominal"}
        }},
       {"width": 259, "height": 342,
        "title": {"text": ["Well-", "mixed"], "anchor": "start", "frame": "group", "offset": -82, "dx": 10, "baseline": "alphabetic", "lineHeight": 27, "fontSize": 22, "fontStyle": "italic", "fontWeight": "bold"},
        "transform": [{"filter": "datum.panel === 'B4'"}],
        "mark": {"type": "line", "strokeWidth": 2.2},
        "encoding": {
         "x": {"field": "day", "type": "ordinal", "scale": {"type": "point", "domain": ["Day1","Day6","Day9"], "padding": 0.6}, "axis": {"title": null}},
         "y": {"field": "value", "type": "quantitative", "scale": {"domain": [-0.047, 0.985], "nice": false, "zero": false}, "axis": {"values": [0,0.25,0.5,0.75], "format": ".2f", "title": null}},
         "color": {"field": "patch", "type": "nominal", "title": "Patch", "scale": {"domain": ["P1","P2","P3","P4"], "range": ["#FF7F50","#104E8B","#B8860B","#98FB98"]}, "legend": {"orient": "none", "legendX": 1305, "legendY": 295, "symbolType": "square", "symbolSize": 484, "symbolStrokeWidth": 0, "titleFontSize": 27, "titleFontStyle": "italic", "titleFontWeight": "bold", "titleColor": "black", "labelFontSize": 20, "labelColor": "black", "rowPadding": 10, "labelOffset": 16, "titlePadding": 12, "encode": {"symbols": {"update": {"fill": {"scale": "color", "field": "value"}, "opacity": {"value": 1}}}}}},
         "detail": {"field": "rep", "type": "nominal"}
        }}
      ]
     }
    ]
   }
  ]
 }
],
"config": {
 "font": "Liberation Sans",
 "view": {"stroke": "#333333", "strokeWidth": 1.2},
 "axis": {"domain": false, "grid": false, "tickColor": "#333333", "tickSize": 4, "tickWidth": 1.1, "labelColor": "#4d4d4d", "labelFontSize": 18, "labelPadding": 3, "labelFont": "Liberation Sans", "titleFont": "Liberation Sans"},
 "axisX": {"labelAngle": 0},
 "title": {"font": "Liberation Sans", "color": "black"},
 "legend": {"labelFont": "Liberation Sans", "titleFont": "Liberation Sans"}
}
}
